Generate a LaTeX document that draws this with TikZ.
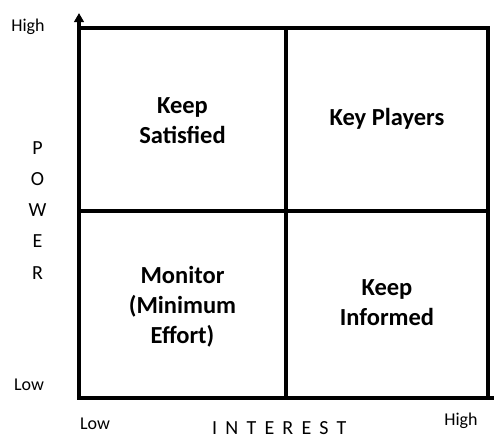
\documentclass[tikz,border=0pt]{standalone}
\usepackage{fontspec}
\setmainfont{Carlito}
\usetikzlibrary{arrows.meta}
\begin{document}
\begin{tikzpicture}[x=1pt,y=-1pt,
  grid/.style={line width=3.5pt, line join=miter},
  quad/.style={font=\fontsize{24.5}{30}\selectfont\bfseries, align=center,
    inner sep=0pt, text depth=0pt},
  scale label/.style={font=\fontsize{18}{22}\selectfont, inner sep=0pt, anchor=base},
  axis letter/.style={font=\fontsize{20}{24}\selectfont, inner sep=0pt, anchor=base}]
\useasboundingbox (0,0) rectangle (494,439);

% frame corners and axis ends
\coordinate (origin) at (79,398);
\coordinate (ytip) at (79,13);
\coordinate (xend) at (496,398);
\coordinate (tl) at (79,28);
\coordinate (tr) at (488,28);
\coordinate (br) at (488,398);
% dividing lines
\coordinate (midtop) at (286,28);
\coordinate (midbot) at (286,398);
\coordinate (midleft) at (79,211);
\coordinate (midright) at (488,211);

% axes, outer frame and quadrant dividers
\draw[grid, {Triangle[length=9pt,width=9.5pt]}-] (ytip) -- (origin) -- (xend);
\draw[grid] (tl) -- (tr) -- (br);
\draw[grid] (midtop) -- (midbot);
\draw[grid] (midleft) -- (midright);

% quadrant labels
\node[quad] (satisfied) at (182.5,120.3) {Keep\\Satisfied};
\node[quad] (players) at (387,116.5) {Key Players};
\node[quad] (monitor) at (182.5,305) {Monitor\\(Minimum\\Effort)};
\node[quad] (informed) at (387,302.5) {Keep\\Informed};

% scale ends
\node[scale label] (phigh) at (28,31.7) {High};
\node[scale label] (plow) at (29,390) {Low};
\node[scale label] (ilow) at (95,429) {Low};
\node[scale label] (ihigh) at (461,425) {High};

% axis titles
\foreach \l [count=\i] in {P,O,W,E,R}
  \node[axis letter] (power\i) at (37.5,{154+31.25*(\i-1)}) {\l};
\node[axis letter, anchor=base west] (interest) at (212,434)
  {\addfontfeature{LetterSpace=41}INTEREST};
\end{tikzpicture}
\end{document}
